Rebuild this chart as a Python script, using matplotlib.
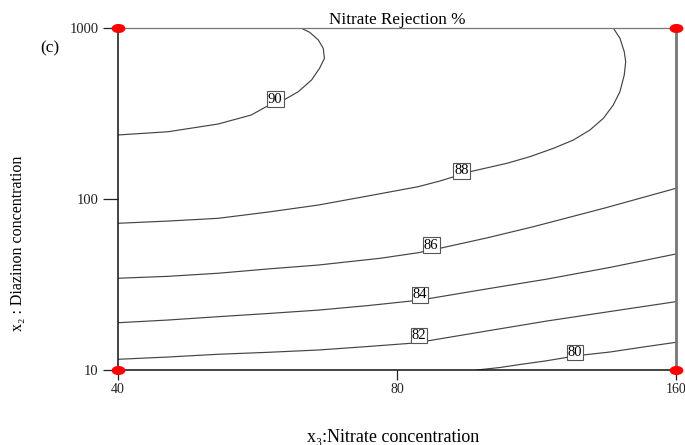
import numpy as np
import matplotlib
matplotlib.use("Agg")
import matplotlib.pyplot as plt
import matplotlib.path as mpath


# ==========================================================
# Contour lines (x3 = nitrate, x2 = diazinon)
# ==========================================================
c90_x = [40, 45.3, 51.3, 55.7, 57.8, 60.4, 62.6, 64.7, 66.0, 66.8, 66.6, 65.8, 64.4, 63.0]
c90_y = [236.8, 247.4, 274.5, 309.9, 346.6, 379.3, 424.2, 496.5, 581.5, 664.9, 760.8, 851.0, 943.5, 1000]

c88_x = [40, 45.3, 51.3, 58.1, 65.8, 74.4, 84.3, 89.0, 93.8, 95.9, 105.1, 111.3,
         118.0, 124.0, 129.2, 133.6, 136.9, 139.2, 140.7, 141.2, 140.7, 139.2, 136.9]
c88_y = [72.1, 74.3, 77.1, 83.9, 92.2, 104.1, 118.0, 127.4, 139.1, 144.4, 161.7, 176.8,
         197.9, 221.3, 253.2, 296.5, 354.5, 424.2, 531.0, 635.3, 726.8, 870.9, 1000]

c86_x = [40, 45.3, 51.3, 58.1, 65.8, 76.7, 84.3, 89.0, 100.0, 112.3, 134.1, 160]
c86_y = [34.4, 35.3, 36.8, 39.0, 41.1, 45.0, 48.5, 51.5, 59.2, 68.9, 88.6, 115.5]

c84_x = [40, 45.3, 51.3, 58.1, 65.8, 74.4, 82.8, 86.4, 100.0, 116.1, 135.8, 160]
c84_y = [18.9, 19.6, 20.5, 21.4, 22.4, 23.8, 25.3, 26.1, 29.8, 34.0, 39.8, 47.7]

c82_x = [40, 45.3, 51.3, 58.1, 65.8, 74.4, 82.8, 86.2, 100.0, 116.1, 135.8, 160]
c82_y = [11.55, 11.91, 12.36, 12.69, 13.09, 13.72, 14.33, 14.78, 16.91, 19.34, 21.98, 25.1]

c80_x = [97.6, 103.3, 108.6, 115.6, 121.8, 127.0, 135.8, 146.3, 160]
c80_y = [10, 10.34, 10.77, 11.29, 11.83, 12.24, 12.74, 13.54, 14.52]

contours = [(c90_x, c90_y), (c88_x, c88_y), (c86_x, c86_y),
            (c84_x, c84_y), (c82_x, c82_y), (c80_x, c80_y)]

# label text and where it sits on each line
label_text = ["90", "88", "86", "84", "82", "80"]
label_x = [59.1, 94.0, 87.1, 84.7, 84.5, 124.5]
label_y = [384.0, 145.8, 53.8, 27.5, 15.9, 12.7]

# design points at the corners
design_x = [40, 40, 160, 160]
design_y = [10, 1000, 10, 1000]

x_ticks = [40, 80, 160]
y_ticks = [10, 100, 1000]

serif = ["Liberation Serif", "DejaVu Serif"]
plt.rcParams["font.family"] = serif

# ==========================================================
# Plot
# ==========================================================
fig = plt.figure(figsize=(6.85, 4.45), dpi=100)
ax = fig.add_axes([118 / 685, 75 / 445, 558 / 685, 342 / 445])

ax.set_xscale("log", base=2)
ax.set_yscale("log")
ax.set_xlim(40, 160)
ax.set_ylim(10, 1000)

for cx, cy in contours:
    ax.plot(cx, cy, color="#444444", lw=0.85, zorder=2)

for t, lx, ly in zip(label_text, label_x, label_y):
    ax.text(lx, ly, t, fontsize=10.5, ha="center", va="center", zorder=4,
            bbox=dict(boxstyle="square,pad=0.08", fc="white", ec="#555555", lw=0.8))

# red ellipse markers
circ = mpath.Path.unit_circle()
ell = mpath.Path(circ.vertices * np.array([1.0, 0.62]), circ.codes)
ax.scatter(design_x, design_y, marker=ell, s=80, color="red", zorder=6, clip_on=False)

ax.set_xticks(x_ticks)
ax.set_xticklabels([str(v) for v in x_ticks])
ax.set_yticks(y_ticks)
ax.set_yticklabels([str(v) for v in y_ticks])
ax.minorticks_off()
ax.tick_params(axis="x", direction="out", length=7.5, width=0.9, labelsize=10,
               colors="#222222", pad=2)
ax.tick_params(axis="y", direction="out", length=10.5, width=0.9, labelsize=10.5,
               colors="#222222", pad=3.5)

ax.spines["left"].set_color("#111111")
ax.spines["left"].set_linewidth(1.1)
ax.spines["bottom"].set_color("#111111")
ax.spines["bottom"].set_linewidth(1.1)
ax.spines["top"].set_color("#777777")
ax.spines["top"].set_linewidth(0.9)
ax.spines["right"].set_color("#777777")
ax.spines["right"].set_linewidth(2.0)

ax.set_title("Nitrate Rejection %", fontsize=12.3, pad=3)
fig.text(50 / 685, 1 - 48 / 445, "(c)", fontsize=12.5, ha="center", va="center")
fig.text(393 / 685, 1 - 438 / 445, "x\u2083:Nitrate concentration", fontsize=13,
         ha="center", va="center")
fig.text(18 / 685, 1 - 243 / 445, "x\u2082 : Diazinon concentration", fontsize=11.5,
         ha="center", va="center", rotation=90)

fig.savefig("out.png", dpi=100)
plt.close(fig)
